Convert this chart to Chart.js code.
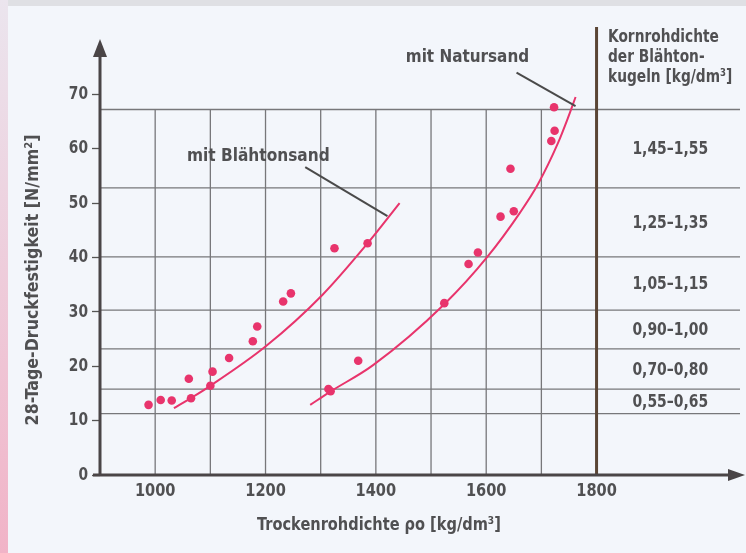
<!DOCTYPE html>
<html>
<head>
<meta charset="utf-8">
<script src="https://cdn.jsdelivr.net/npm/chart.js@4.4.1/dist/chart.umd.min.js"></script>
<style>
  html, body { margin: 0; padding: 0; }
  body { width: 746px; height: 553px; background: #f3f6fb; position: relative; overflow: hidden; }
  .topBand { position: absolute; left: 0; top: 0; width: 746px; height: 6px; background: #dfe0e4; }
  .leftBand { position: absolute; left: 0; top: 0; width: 8px; height: 553px; background: linear-gradient(#ebe5ee, #f1b3c7); }
  canvas { position: absolute; left: 0; top: 0; }
</style>
</head>
<body>
<div class="topBand"></div>
<div class="leftBand"></div>
<canvas id="chart" width="746" height="553"></canvas>
<script>
// measured points, mit Blähtonsand
const blaehtonDichte = [988, 1010, 1030, 1061, 1065, 1100, 1104, 1134, 1177, 1185, 1232, 1246, 1325, 1385]
const blaehtonFestigkeit = [12.9, 13.8, 13.7, 17.7, 14.1, 16.4, 19.0, 21.5, 24.6, 27.3, 31.9, 33.4, 41.7, 42.6]

// measured points, mit Natursand
const naturDichte = [1314, 1318, 1368, 1524, 1568, 1585, 1626, 1650, 1644, 1718, 1724, 1723]
const naturFestigkeit = [15.8, 15.4, 21.0, 31.6, 38.8, 40.9, 47.5, 48.5, 56.3, 61.4, 63.3, 67.6]

// fitted curves
const blaehtonKurveX = [1034, 1064, 1100, 1201, 1303, 1385, 1443]
const blaehtonKurveY = [12.3, 14.1, 16.4, 23.7, 33.1, 42.6, 50.0]
const naturKurveX = [1281, 1317, 1395, 1524, 1602, 1661, 1694, 1730, 1748, 1762]
const naturKurveY = [12.9, 15.3, 20.2, 31.4, 40.1, 48.2, 53.5, 61.0, 65.6, 69.5]

// leader lines of the two labels
const leaderBlaehtonX = [1272, 1421]
const leaderBlaehtonY = [56.6, 47.6]
const leaderNaturX = [1655, 1762]
const leaderNaturY = [74.0, 67.8]

// axes
const xTicks = [1000, 1200, 1400, 1600, 1800]
const yTicks = [0, 10, 20, 30, 40, 50, 60, 70]
const gitterX = [1000, 1100, 1200, 1300, 1400, 1500, 1600, 1700]

// Kornrohdichte table on the right
const klassenGrenzen = [67.2, 52.8, 40.1, 30.3, 23.2, 15.8, 11.3]
const kornKlassen = ['1,45–1,55', '1,25–1,35', '1,05–1,15', '0,90–1,00', '0,70–0,80', '0,55–0,65']

const FONT = "'Liberation Sans Narrow', 'DejaVu Sans Condensed', 'Roboto', sans-serif"
const TEXT = '#505052'
const PINK = '#e8346c'

const pairs = (xs, ys) => xs.map((x, i) => ({ x: x, y: ys[i] }))

// narrow text: the original uses a condensed face
function label(ctx, text, x, y, align, sx) {
  ctx.save()
  ctx.translate(x, y)
  ctx.scale(sx, 1)
  ctx.textAlign = align
  ctx.fillText(text, 0, 0)
  ctx.restore()
}

const decor = {
  id: 'decor',
  beforeDatasetsDraw(chart) {
    const { ctx, chartArea: a, scales: { x, y } } = chart
    ctx.save()
    ctx.strokeStyle = '#77777a'
    ctx.lineWidth = 1.3
    klassenGrenzen.forEach(v => {
      const py = y.getPixelForValue(v)
      ctx.beginPath(); ctx.moveTo(a.left, py); ctx.lineTo(a.right, py); ctx.stroke()
    })
    const top = y.getPixelForValue(klassenGrenzen[0])
    const bottom = y.getPixelForValue(0)
    gitterX.forEach(v => {
      const px = x.getPixelForValue(v)
      ctx.beginPath(); ctx.moveTo(px, top); ctx.lineTo(px, bottom); ctx.stroke()
    })
    // thick brown divider at 1800
    const px18 = x.getPixelForValue(1800)
    ctx.strokeStyle = '#5a4535'
    ctx.lineWidth = 3
    ctx.beginPath(); ctx.moveTo(px18, 27); ctx.lineTo(px18, bottom); ctx.stroke()
    ctx.restore()
  },
  afterDatasetsDraw(chart) {
    const { ctx, chartArea: a, scales: { x, y } } = chart
    const x0 = a.left, y0 = y.getPixelForValue(0)
    ctx.save()
    // axes with arrows
    ctx.strokeStyle = '#4a4547'
    ctx.fillStyle = '#4a4547'
    ctx.lineWidth = 3
    ctx.beginPath(); ctx.moveTo(x0, y0 + 1); ctx.lineTo(x0, 52); ctx.stroke()
    ctx.beginPath(); ctx.moveTo(x0, 39); ctx.lineTo(x0 - 7, 57); ctx.lineTo(x0 + 7, 57); ctx.closePath(); ctx.fill()
    ctx.beginPath(); ctx.moveTo(93, y0); ctx.lineTo(732, y0); ctx.stroke()
    ctx.beginPath(); ctx.moveTo(745, y0); ctx.lineTo(728, y0 - 6); ctx.lineTo(728, y0 + 6); ctx.closePath(); ctx.fill()

    ctx.fillStyle = TEXT
    ctx.font = 'bold 18px ' + FONT
    ctx.textBaseline = 'middle'
    // tick labels
    xTicks.forEach(v => label(ctx, String(v), x.getPixelForValue(v), 491, 'center', 0.9))
    yTicks.forEach(v => label(ctx, String(v), 88, y.getPixelForValue(v), 'right', 0.85))
    // curve labels
    label(ctx, 'mit Blähtonsand', x.getPixelForValue(1187), y.getPixelForValue(58.5), 'center', 0.95)
    label(ctx, 'mit Natursand', x.getPixelForValue(1566), y.getPixelForValue(76.8), 'center', 0.94)
    // table values
    const cx = (x.getPixelForValue(1800) + a.right) / 2 + 2
    kornKlassen.forEach((t, i) => {
      const cy = (y.getPixelForValue(klassenGrenzen[i]) + y.getPixelForValue(klassenGrenzen[i + 1])) / 2 + 1
      label(ctx, t, cx, cy, 'center', 0.86)
    })
    // table header
    label(ctx, 'Kornrohdichte', 608, 37, 'left', 0.85)
    label(ctx, 'der Blähton-', 608, 57, 'left', 0.85)
    label(ctx, 'kugeln [kg/dm³]', 608, 77, 'left', 0.85)
    // axis titles
    label(ctx, 'Trockenrohdichte ρo [kg/dm³]', 379, 525, 'center', 0.9)
    ctx.translate(33, 280)
    ctx.rotate(-Math.PI / 2)
    label(ctx, '28-Tage-Druckfestigkeit [N/mm²]', 0, 0, 'center', 0.98)
    ctx.restore()
  }
}

const curve = (data) => ({
  data: data, showLine: true, pointRadius: 0, borderColor: PINK, borderWidth: 2,
  cubicInterpolationMode: 'monotone', fill: false
})
const leader = (data) => ({
  data: data, showLine: true, pointRadius: 0, borderColor: '#4a4a4a', borderWidth: 2, fill: false
})
const dots = (data) => ({
  data: data, showLine: false, pointRadius: 4.3, pointBackgroundColor: PINK, pointBorderWidth: 0
})

new Chart(document.getElementById('chart'), {
  type: 'scatter',
  data: {
    datasets: [
      leader(pairs(leaderBlaehtonX, leaderBlaehtonY)),
      leader(pairs(leaderNaturX, leaderNaturY)),
      curve(pairs(blaehtonKurveX, blaehtonKurveY)),
      curve(pairs(naturKurveX, naturKurveY)),
      dots(pairs(blaehtonDichte, blaehtonFestigkeit)),
      dots(pairs(naturDichte, naturFestigkeit))
    ]
  },
  options: {
    responsive: false,
    animation: false,
    devicePixelRatio: 1,
    layout: { padding: { top: 29, right: 6, left: 0, bottom: 0 } },
    plugins: { legend: { display: false }, tooltip: { enabled: false } },
    scales: {
      x: {
        type: 'linear', min: 900, max: 2060,
        afterBuildTicks: s => { s.ticks = xTicks.map(v => ({ value: v })) },
        afterFit: s => { s.height = 78 },
        grid: { display: false, drawTicks: false },
        border: { display: false },
        ticks: { display: false }
      },
      y: {
        min: 0, max: 82,
        afterBuildTicks: s => { s.ticks = yTicks.map(v => ({ value: v })) },
        afterFit: s => { s.width = 100 },
        grid: { drawOnChartArea: false, drawTicks: true, tickLength: 8, tickColor: '#555', tickWidth: 1.3 },
        border: { display: false },
        ticks: { display: false }
      }
    }
  },
  plugins: [decor]
})
</script>
</body>
</html>
